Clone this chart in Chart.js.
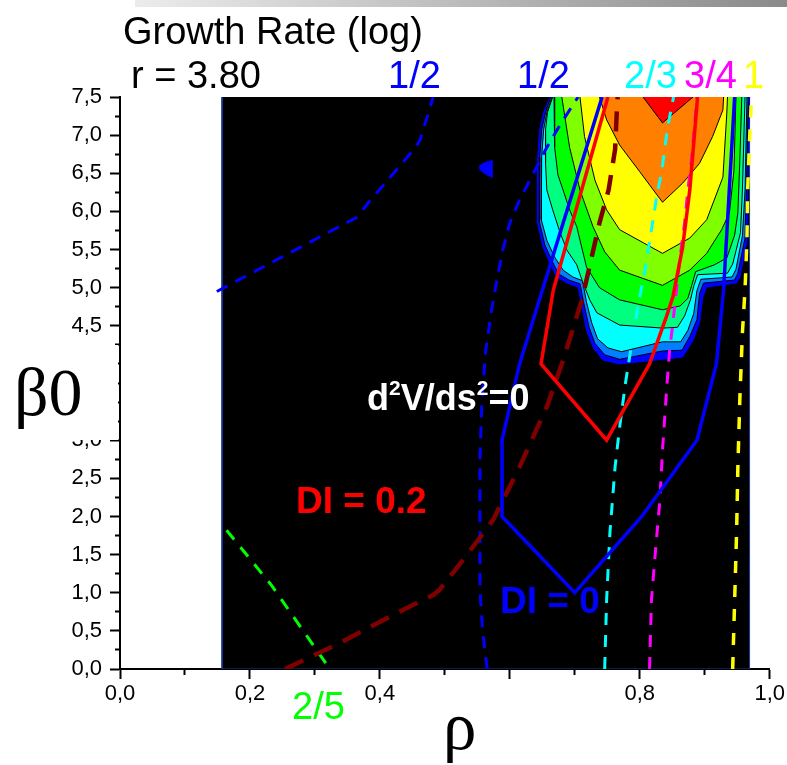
<!DOCTYPE html>
<html>
<head>
<meta charset="utf-8">
<script src="https://cdn.jsdelivr.net/npm/chart.js@4.4.1/dist/chart.umd.min.js"></script>
<style>
body { margin:0; background:#fff; }
#wrap { position:relative; width:787px; height:765px; overflow:hidden; font-family:"Liberation Sans", Arial, sans-serif; }
#c { position:absolute; left:0; top:0; }
.t { position:absolute; line-height:1; white-space:nowrap; font-size:38px; color:#000; }
.b { font-weight:bold; }
.serif { font-family:"Liberation Serif", "Times New Roman", serif; }
.sup { position:relative; top:-15px; font-size:21px; }
.bar { position:absolute; left:135px; top:0; width:652px; height:7px; background:linear-gradient(to right,#ececec,#8a8a8a); }
.mask { position:absolute; background:#fff; }
</style>
</head>
<body>
<div id="wrap">
  <div class="bar"></div>
  <canvas id="c" width="787" height="765"></canvas>
  <div class="t" style="left:123px;top:12px;">Growth Rate (log)</div>
  <div class="t" style="left:131px;top:56px;">r = 3.80</div>
  <div class="t" style="left:388px;top:56px;color:#0000ff;">1/2</div>
  <div class="t" style="left:517px;top:56px;color:#0000ff;">1/2</div>
  <div class="t" style="left:624px;top:56px;color:#00ffff;">2/3</div>
  <div class="t" style="left:684px;top:56px;color:#ff00ff;">3/4</div>
  <div class="t" style="left:743px;top:56px;color:#ffff00;">1</div>
  <div class="t" style="left:292px;top:687px;color:#00ff00;">2/5</div>
  <div class="t b" style="left:367px;top:380px;color:#fff;font-size:36px;">d<span class="sup">2</span>V/ds<span class="sup">2</span>=0</div>
  <div class="t b" style="left:296px;top:482px;color:#ff0000;font-size:37px;">DI = 0.2</div>
  <div class="t b" style="left:500px;top:582px;color:#0000ff;font-size:37px;">DI = 0</div>
  <div class="mask" style="left:6px;top:345px;width:112px;height:95px;"></div>
  <div class="t serif" style="left:14px;top:358px;font-size:68px;">β0</div>
  <div class="t serif" style="left:443px;top:693px;font-size:67px;">ρ</div>
</div>
<script>
// axes
var rhoTicks = [0, 0.2, 0.4, 0.8, 1.0];
var rhoTickLabels = ['0,0', '0,2', '0,4', '0,8', '1,0'];
var betaTicks = [0, 0.5, 1, 1.5, 2, 2.5, 3, 3.5, 4, 4.5, 5, 5.5, 6, 6.5, 7, 7.5];
var betaTickLabels = ['0,0','0,5','1,0','1,5','2,0','2,5','3,0','3,5','4,0','4,5','5,0','5,5','6,0','6,5','7,0','7,5'];

// black computed region
var mapArea = [[0.157,7.5],[0.157,0],[0.969,0],[0.969,7.5]];

// growth rate contours, outer -> inner  [rho, beta0]
var lvlBlue = [[0.662,7.50],[0.652,7.30],[0.646,7.07],[0.643,6.71],[0.642,6.28],[0.643,5.85],[0.651,5.53],[0.662,5.32],[0.672,5.14],[0.688,5.06],[0.705,5.01],[0.711,4.75],[0.718,4.44],[0.728,4.22],[0.743,4.05],[0.769,4.00],[0.835,4.06],[0.866,4.09],[0.882,4.31],[0.892,4.54],[0.897,4.88],[0.903,5.01],[0.949,5.06],[0.954,5.14],[0.965,5.62],[0.966,6.28],[0.969,7.50]];
var lvlAzure = [[0.663,7.50],[0.655,7.30],[0.649,7.07],[0.646,6.71],[0.645,6.28],[0.646,5.86],[0.654,5.56],[0.665,5.35],[0.675,5.18],[0.691,5.10],[0.708,5.05],[0.714,4.79],[0.722,4.48],[0.731,4.27],[0.746,4.12],[0.769,4.06],[0.835,4.17],[0.865,4.18],[0.877,4.36],[0.888,4.58],[0.892,4.92],[0.898,5.06],[0.946,5.10],[0.951,5.19],[0.962,5.65],[0.964,6.28],[0.967,7.50]];
var lvlCyan = [[0.665,7.50],[0.657,7.30],[0.652,7.07],[0.649,6.71],[0.648,6.28],[0.649,5.89],[0.657,5.62],[0.669,5.40],[0.682,5.23],[0.697,5.14],[0.712,5.09],[0.718,4.81],[0.726,4.54],[0.735,4.33],[0.751,4.21],[0.772,4.16],[0.835,4.29],[0.863,4.29],[0.874,4.44],[0.883,4.66],[0.888,4.96],[0.894,5.11],[0.942,5.14],[0.948,5.24],[0.958,5.68],[0.962,6.28],[0.965,7.50]];
var lvlSpring = [[0.666,7.50],[0.658,7.30],[0.655,7.07],[0.655,6.63],[0.657,6.28],[0.666,6.02],[0.677,5.73],[0.688,5.49],[0.703,5.30],[0.711,5.10],[0.723,4.84],[0.734,4.67],[0.769,4.51],[0.835,4.47],[0.858,4.48],[0.869,4.63],[0.878,4.84],[0.883,5.02],[0.889,5.17],[0.935,5.19],[0.943,5.31],[0.955,5.72],[0.958,6.28],[0.962,7.50]];
var lvlGreen = [[0.668,7.50],[0.669,6.84],[0.674,6.48],[0.682,6.28],[0.692,6.02],[0.703,5.80],[0.718,5.27],[0.738,5.00],[0.769,4.84],[0.835,4.71],[0.862,4.76],[0.874,4.86],[0.880,5.03],[0.886,5.21],[0.915,5.30],[0.934,5.39],[0.946,5.69],[0.951,5.98],[0.954,6.67],[0.957,7.50]];
var lvlLime = [[0.680,7.50],[0.692,6.84],[0.708,6.28],[0.728,5.80],[0.746,5.47],[0.769,5.23],[0.835,5.03],[0.877,5.23],[0.903,5.45],[0.926,5.76],[0.938,5.98],[0.945,6.54],[0.948,7.50]];
var lvlYellow = [[0.708,7.50],[0.715,6.98],[0.731,6.41],[0.749,6.02],[0.769,5.76],[0.835,5.45],[0.877,5.65],[0.903,5.89],[0.928,6.45],[0.934,7.29],[0.935,7.50]];
var lvlOrange = [[0.738,7.50],[0.749,7.20],[0.769,6.87],[0.800,6.52],[0.835,6.12],[0.866,6.37],[0.892,6.63],[0.912,6.98],[0.928,7.33],[0.929,7.50]];
var lvlRed = [[0.805,7.50],[0.835,7.16],[0.882,7.50]];

// lines
var diZero = [[0.742,7.50],[0.615,4.00],[0.588,3.00],[0.588,2.00],[0.700,1.00],[0.803,2.00],[0.888,3.00],[0.918,4.00],[0.929,4.97],[0.946,7.50]];
var diPoint2 = [[0.751,7.50],[0.667,4.97],[0.648,4.00],[0.749,3.00],[0.815,4.00],[0.841,4.62],[0.851,4.88],[0.866,5.53],[0.877,6.28],[0.889,7.50]];
var d2v = [[0.254,0],[0.338,0.34],[0.425,0.73],[0.482,0.97],[0.492,1.04],[0.528,1.43],[0.574,1.95],[0.615,2.65],[0.657,3.44],[0.682,4.05],[0.711,4.84],[0.738,5.85],[0.752,6.28],[0.762,6.81],[0.765,7.37],[0.766,7.50]];
var halfLeft = [[0.149,4.95],[0.364,5.92],[0.382,6.11],[0.456,6.85],[0.462,6.94],[0.482,7.50]];
var halfRight = [[0.565,0],[0.558,0.51],[0.554,1.04],[0.554,1.82],[0.554,2.74],[0.557,3.53],[0.563,4.18],[0.572,4.71],[0.580,5.10],[0.589,5.49],[0.600,5.85],[0.615,6.15],[0.635,6.48],[0.655,6.81],[0.677,7.13],[0.705,7.50]];
var twoFifth = [[0.164,1.82],[0.233,1.10],[0.323,0]];
var twoThird = [[0.746,0],[0.749,0.91],[0.754,1.78],[0.762,2.65],[0.769,3.17],[0.778,3.75],[0.786,4.18],[0.797,4.75],[0.808,5.23],[0.818,5.76],[0.826,6.19],[0.834,6.54],[0.843,7.11],[0.852,7.50]];
var threeQuarter = [[0.815,0],[0.818,0.91],[0.823,1.43],[0.831,2.22],[0.835,2.87],[0.842,3.75],[0.846,4.18],[0.851,4.54],[0.862,5.40],[0.869,5.85],[0.874,6.28],[0.880,6.71],[0.888,7.50]];
var oneOne = [[0.943,0],[0.949,1.78],[0.951,2.65],[0.954,3.53],[0.958,4.41],[0.962,4.97],[0.965,5.63],[0.966,6.28],[0.969,6.94],[0.972,7.50]];
var blueDot = [[0.563,6.56]];

function pts(a) {
  return a.map(function(p) { return {x: p[0], y: p[1]}; });
}
function poly(a, col, edge) {
  return {data: pts(a), fill: 'shape', backgroundColor: col, borderColor: edge, borderWidth: 1, pointRadius: 0, tension: 0};
}
function curve(a, col, w, dash) {
  return {data: pts(a), fill: false, borderColor: col, borderWidth: w, borderDash: dash, pointRadius: 0, tension: 0};
}

// half disc marker, round side to the left
var dotImg = document.createElement('canvas');
dotImg.width = 16; dotImg.height = 18;
(function() {
  var g = dotImg.getContext('2d');
  g.fillStyle = '#0000ff';
  g.beginPath();
  g.moveTo(15, 0);
  g.quadraticCurveTo(-3, 4, 2, 10);
  g.quadraticCurveTo(6, 15, 15, 18);
  g.closePath();
  g.fill();
})();

// first dataset ends up on top
var datasets = [
  curve(diZero, '#0000ff', 3.5, []),
  curve(diPoint2, '#ff0000', 3.5, []),
  curve(twoThird, '#00ffff', 3, [12, 10]),
  curve(threeQuarter, '#ff00ff', 3, [12, 10]),
  curve(oneOne, '#ffff00', 3.5, [12, 12]),
  curve(d2v, '#800000', 4.5, [20, 12]),
  curve(halfRight, '#0000ff', 3, [12, 9]),
  curve(halfLeft, '#0000ff', 3, [12, 9]),
  curve(twoFifth, '#00ff00', 3, [12, 10]),
  {data: pts(blueDot), showLine: false, pointRadius: 9, pointStyle: dotImg},
  poly(lvlRed, '#ff0000', '#000'),
  poly(lvlOrange, '#ff8000', '#000'),
  poly(lvlYellow, '#ffff00', '#000'),
  poly(lvlLime, '#80ff00', '#000'),
  poly(lvlGreen, '#00ff00', '#000'),
  poly(lvlSpring, '#00ff80', '#000'),
  poly(lvlCyan, '#00ffff', '#000'),
  poly(lvlAzure, '#0080ff', '#000'),
  poly(lvlBlue, '#0000ff', '#0000ff'),
  poly(mapArea, '#000000', '#1a3a9a')
];

function labelFor(v, vals, labels) {
  for (var i = 0; i < vals.length; i++) {
    if (Math.abs(vals[i] - v) < 1e-6) return labels[i];
  }
  return '';
}

Chart.defaults.font.family = "'Liberation Sans', Arial, sans-serif";

new Chart(document.getElementById('c'), {
  type: 'line',
  data: {datasets: datasets},
  options: {
    responsive: false,
    animation: false,
    events: [],
    layout: {padding: {left: 58, top: 97, right: 17, bottom: 56}},
    plugins: {legend: {display: false}, tooltip: {enabled: false}},
    scales: {
      x: {
        type: 'linear', min: 0, max: 1,
        ticks: {
          stepSize: 0.1, autoSkip: false, maxRotation: 0, padding: 2, color: '#000', font: {size: 22},
          callback: function(v) { return labelFor(v, rhoTicks, rhoTickLabels); }
        },
        grid: {
          drawOnChartArea: false, tickLength: 10, tickColor: '#000', tickWidth: 2,
          tickBorderDash: function(c) { return Math.round(c.tick.value * 10) % 2 === 0 ? [] : [5, 20]; }
        },
        border: {color: '#000', width: 2},
        afterFit: function(s) { s.height = 40; }
      },
      y: {
        type: 'linear', min: 0, max: 7.5,
        ticks: {
          stepSize: 0.25, autoSkip: false, padding: 8, color: '#000', font: {size: 22},
          callback: function(v) { return labelFor(v, betaTicks, betaTickLabels); }
        },
        grid: {
          drawOnChartArea: false, tickLength: 10, tickColor: '#000', tickWidth: 2,
          tickBorderDash: function(c) { return Math.round(c.tick.value * 4) % 2 === 0 ? [] : [0, 5, 10, 20]; }
        },
        border: {color: '#000', width: 2},
        afterFit: function(s) { s.width = 62; }
      }
    }
  }
});
</script>
</body>
</html>
